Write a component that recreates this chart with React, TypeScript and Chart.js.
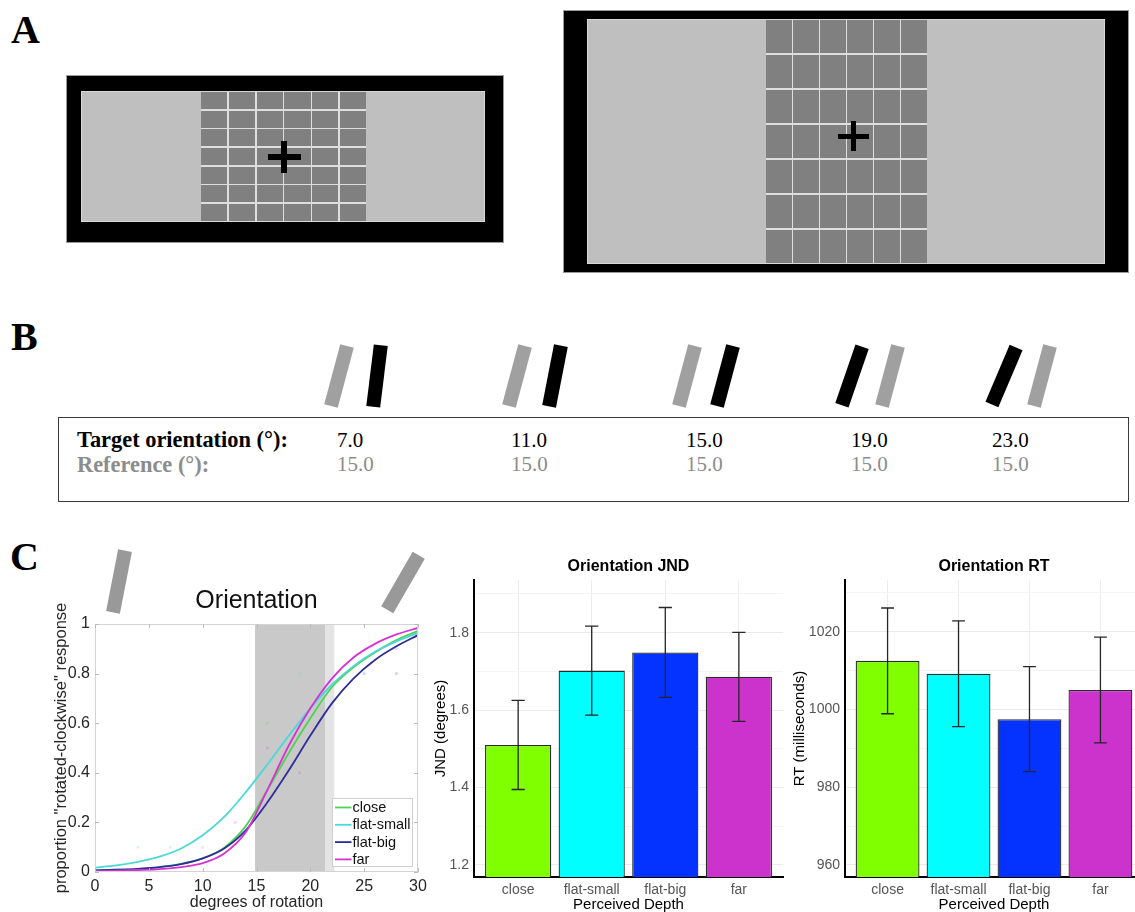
import React, { useEffect, useRef } from 'react';
import { Chart, registerables } from 'chart.js';

Chart.register(...registerables);

const SANS = "'Liberation Sans', Arial, Helvetica, sans-serif";
const SERIF = "'Liberation Serif', 'Times New Roman', Times, serif";

// ---------------- Panel B data ----------------
const targetOrientations = [7.0, 11.0, 15.0, 19.0, 23.0];
const referenceOrientations = [15.0, 15.0, 15.0, 15.0, 15.0];

// ---------------- Panel C: example bars above the psychometric plot (deg) ----------------
const exampleBarAngles = [11, 30];

// ---------------- Panel C: psychometric curves ----------------
const rotationDegrees = [0, 2, 4, 6, 8, 10, 12, 14, 16, 18, 20, 22, 24, 26, 28, 30];
const closeCurve = [0.006, 0.009, 0.013, 0.02, 0.033, 0.055, 0.098, 0.185, 0.33, 0.48, 0.62, 0.745, 0.825, 0.885, 0.935, 0.972];
const flatSmallCurve = [0.018, 0.027, 0.041, 0.062, 0.095, 0.148, 0.222, 0.322, 0.433, 0.55, 0.66, 0.755, 0.83, 0.888, 0.93, 0.964];
const flatBigCurve = [0.006, 0.009, 0.013, 0.02, 0.032, 0.055, 0.095, 0.168, 0.28, 0.41, 0.55, 0.68, 0.78, 0.855, 0.91, 0.955];
const farCurve = [0.003, 0.005, 0.008, 0.012, 0.02, 0.036, 0.075, 0.16, 0.33, 0.51, 0.66, 0.78, 0.865, 0.92, 0.958, 0.984];
const psychLabels = ['close', 'flat-small', 'flat-big', 'far'];
const psychColors = ['#4fd24f', '#4cd8d8', '#2d2d9b', '#d532d5'];
const psychXTicks = [0, 5, 10, 15, 20, 25, 30];
const psychYTicks = [0, 0.2, 0.4, 0.6, 0.8, 1];
const shadeOuter = [14.87, 22.23];
const shadeInner = [14.87, 21.36];

// raw proportions (faint dots)
const closeRawX = [10, 16];
const closeRawY = [0.1, 0.6];
const flatSmallRawX = [4, 7, 13, 19, 25];
const flatSmallRawY = [0.1, 0.1, 0, 0.8, 0.9];
const flatBigRawX = [25, 28];
const flatBigRawY = [0.8, 0.8];
const farRawX = [4, 7, 10, 13, 16, 19, 25, 28];
const farRawY = [0, 0, 0, 0.2, 0.5, 0.4, 1.0, 0.9];

// ---------------- Panel C: bar charts ----------------
const depthCategories = ['close', 'flat-small', 'flat-big', 'far'];
const depthColors = ['#80ff00', '#00ffff', '#0433ff', '#cc33cc'];
const jndMeans = [1.51, 1.702, 1.749, 1.686];
const jndSE = [0.115, 0.115, 0.116, 0.115];
const jndMajorTicks = [1.2, 1.4, 1.6, 1.8];
const jndMinorTicks = [1.3, 1.5, 1.7, 1.9];
const jndRange = [1.169, 1.936];
const rtMeans = [1012.5, 1009.2, 997.5, 1005.0];
const rtSE = [13.6, 13.6, 13.5, 13.6];
const rtMajorTicks = [960, 980, 1000, 1020];
const rtMinorTicks = [970, 990, 1010, 1030];
const rtRange = [956.9, 1033.3];

// ---------------------------------------------------------------
function ChartCanvas({ left, top, width, height, makeConfig }: any) {
  const ref = useRef<HTMLCanvasElement>(null);
  useEffect(() => {
    const chart = new Chart(ref.current as HTMLCanvasElement, makeConfig());
    return () => chart.destroy();
  }, []);
  return (
    <canvas
      ref={ref}
      width={width}
      height={height}
      style={{ position: 'absolute', left, top, width, height }}
    />
  );
}

const psychDecorPlugin = {
  id: 'psychDecor',
  beforeDatasetsDraw(chart: any) {
    const { ctx, chartArea: a, scales } = chart;
    const x = scales.x;
    ctx.save();
    const band = (range: number[], color: string) => {
      const x0 = x.getPixelForValue(range[0]);
      const x1 = x.getPixelForValue(range[1]);
      ctx.fillStyle = color;
      ctx.fillRect(x0, a.top, x1 - x0, a.bottom - a.top);
    };
    band(shadeOuter, '#e4e4e4');
    band(shadeInner, '#c9c9c9');
    ctx.restore();
  },
  afterDatasetsDraw(chart: any) {
    const { ctx, chartArea: a, scales } = chart;
    const x = scales.x;
    const y = scales.y;
    ctx.save();
    ctx.strokeStyle = '#d4d4d4';
    ctx.lineWidth = 1;
    ctx.strokeRect(a.left + 0.5, a.top + 0.5, a.right - a.left - 1, a.bottom - a.top - 1);
    ctx.strokeStyle = '#bcbcbc';
    ctx.beginPath();
    psychXTicks.forEach((v) => {
      const px = Math.round(x.getPixelForValue(v)) + 0.5;
      ctx.moveTo(px, a.bottom);
      ctx.lineTo(px, a.bottom - 4);
      ctx.moveTo(px, a.top);
      ctx.lineTo(px, a.top + 4);
    });
    psychYTicks.forEach((v) => {
      const py = Math.round(y.getPixelForValue(v)) + 0.5;
      ctx.moveTo(a.left, py);
      ctx.lineTo(a.left + 4, py);
      ctx.moveTo(a.right, py);
      ctx.lineTo(a.right - 4, py);
    });
    ctx.stroke();

    // legend (inside, bottom-right)
    const bw = 80;
    const bh = 68;
    const bx = a.right - 6 - bw;
    const by = a.bottom - 6 - bh;
    ctx.fillStyle = '#fff';
    ctx.fillRect(bx, by, bw, bh);
    ctx.strokeStyle = '#d0d0d0';
    ctx.lineWidth = 1;
    ctx.strokeRect(Math.round(bx) + 0.5, Math.round(by) + 0.5, bw, bh);
    ctx.font = `14.5px ${SANS}`;
    ctx.textBaseline = 'middle';
    ctx.textAlign = 'left';
    psychLabels.forEach((lab, i) => {
      const cy = by + 9.5 + i * 17.3;
      ctx.strokeStyle = psychColors[i];
      ctx.lineWidth = 1.8;
      ctx.beginPath();
      ctx.moveTo(bx + 3, cy);
      ctx.lineTo(bx + 19.5, cy);
      ctx.stroke();
      ctx.fillStyle = '#111';
      ctx.fillText(lab, bx + 20.5, cy + 0.5);
    });
    ctx.restore();
  },
};

function makePsychConfig() {
  const curves = [closeCurve, flatSmallCurve, flatBigCurve, farCurve];
  const rawX = [closeRawX, flatSmallRawX, flatBigRawX, farRawX];
  const rawY = [closeRawY, flatSmallRawY, flatBigRawY, farRawY];
  const fade = (hex: string) => {
    const n = parseInt(hex.slice(1), 16);
    return `rgba(${(n >> 16) & 255},${(n >> 8) & 255},${n & 255},0.2)`;
  };
  const curveSets = curves.map((c, i) => ({
    label: psychLabels[i],
    data: rotationDegrees.map((d, j) => ({ x: d, y: c[j] })),
    borderColor: psychColors[i],
    borderWidth: 1.8,
    pointRadius: 0,
    cubicInterpolationMode: 'monotone',
    fill: false,
  }));
  const rawSets = rawX.map((xs, i) => ({
    label: psychLabels[i] + ' data',
    data: xs.map((d, j) => ({ x: d, y: rawY[i][j] })),
    showLine: false,
    pointRadius: 1.6,
    pointBorderWidth: 0,
    pointBackgroundColor: fade(psychColors[i]),
    borderColor: 'transparent',
  }));
  return {
    type: 'line',
    data: { datasets: [...curveSets.slice().reverse(), ...rawSets] },
    options: {
      responsive: false,
      animation: false,
      devicePixelRatio: 1,
      events: [],
      layout: { padding: { left: 0, right: 22, top: 0, bottom: 0 } },
      plugins: {
        legend: { display: false },
        tooltip: { enabled: false },
        title: {
          display: true,
          text: 'Orientation',
          fullSize: false,
          color: '#111',
          font: { family: SANS, size: 25, weight: 'normal' },
          padding: { top: 6, bottom: 8 },
        },
      },
      scales: {
        x: {
          type: 'linear',
          min: 0,
          max: 30,
          afterBuildTicks: (axis: any) => {
            axis.ticks = psychXTicks.map((v) => ({ value: v }));
          },
          afterFit: (axis: any) => {
            axis.height = 40;
          },
          ticks: {
            color: '#262626',
            font: { family: SANS, size: 16 },
            padding: 5,
            maxRotation: 0,
            autoSkip: false,
            callback: (v: any) => String(v),
          },
          grid: { display: false, drawTicks: false },
          border: { display: false },
          title: {
            display: true,
            text: 'degrees of rotation',
            color: '#262626',
            font: { family: SANS, size: 16 },
            padding: 0,
          },
        },
        y: {
          type: 'linear',
          min: 0,
          max: 1,
          afterBuildTicks: (axis: any) => {
            axis.ticks = psychYTicks.map((v) => ({ value: v }));
          },
          afterFit: (axis: any) => {
            axis.width = 45;
          },
          ticks: {
            color: '#262626',
            font: { family: SANS, size: 16 },
            padding: 5,
            autoSkip: false,
            callback: (v: any) => String(v),
          },
          grid: { display: false, drawTicks: false },
          border: { display: false },
          title: {
            display: true,
            text: 'proportion "rotated-clockwise" response',
            color: '#262626',
            font: { family: SANS, size: 16.5 },
            padding: { top: 2, bottom: 0 },
          },
        },
      },
    },
    plugins: [psychDecorPlugin],
  };
}

function makeErrorBarPlugin(means: number[], se: number[]) {
  return {
    id: 'errorBars',
    afterDatasetsDraw(chart: any) {
      const { ctx, scales } = chart;
      const x = scales.x;
      const y = scales.y;
      ctx.save();
      ctx.strokeStyle = '#262626';
      ctx.lineWidth = 1.3;
      means.forEach((m, i) => {
        const px = x.getPixelForValue(i);
        const hw = x.getPixelForValue(i + 0.09) - px;
        const yt = y.getPixelForValue(m + se[i]);
        const yb = y.getPixelForValue(m - se[i]);
        ctx.beginPath();
        ctx.moveTo(px, yt);
        ctx.lineTo(px, yb);
        ctx.moveTo(px - hw, yt);
        ctx.lineTo(px + hw, yt);
        ctx.moveTo(px - hw, yb);
        ctx.lineTo(px + hw, yb);
        ctx.stroke();
      });
      ctx.restore();
    },
  };
}

function makeBarConfig(
  title: string,
  yTitle: string,
  means: number[],
  se: number[],
  major: number[],
  minor: number[],
  range: number[],
  yAxisWidth: number,
  rightPad: number
) {
  const allTicks = [...major, ...minor].sort((a, b) => a - b);
  return {
    type: 'bar',
    data: {
      datasets: [
        {
          data: means.map((m, i) => ({ x: i, y: m })),
          backgroundColor: depthColors,
          borderColor: '#2b2b2b',
          borderWidth: 1.3,
          barPercentage: 0.9,
          categoryPercentage: 1,
          borderSkipped: 'start',
        },
      ],
    },
    options: {
      responsive: false,
      animation: false,
      devicePixelRatio: 1,
      events: [],
      layout: { padding: { left: 0, right: rightPad, top: 0, bottom: 0 } },
      plugins: {
        legend: { display: false },
        tooltip: { enabled: false },
        title: {
          display: true,
          text: title,
          fullSize: false,
          color: '#000',
          font: { family: SANS, size: 16, weight: 'bold' },
          padding: { top: 17, bottom: 3.8 },
        },
      },
      scales: {
        x: {
          type: 'linear',
          offset: false,
          min: -0.6,
          max: depthCategories.length - 0.4,
          afterBuildTicks: (axis: any) => {
            axis.ticks = depthCategories.map((_, i) => ({ value: i }));
          },
          afterFit: (axis: any) => {
            axis.height = 37;
          },
          ticks: {
            color: '#555',
            font: { family: SANS, size: 14 },
            padding: 5,
            autoSkip: false,
            maxRotation: 0,
            callback: (v: any) => depthCategories[v],
          },
          grid: { color: '#ececec', drawTicks: false, lineWidth: 1, offset: false },
          border: { display: true, color: '#000', width: 2 },
          title: {
            display: true,
            text: 'Perceived Depth',
            color: '#000',
            font: { family: SANS, size: 15 },
            padding: 0,
          },
        },
        y: {
          type: 'linear',
          min: range[0],
          max: range[1],
          afterBuildTicks: (axis: any) => {
            axis.ticks = allTicks.map((v) => ({ value: v }));
          },
          afterFit: (axis: any) => {
            axis.width = yAxisWidth;
          },
          ticks: {
            color: '#555',
            font: { family: SANS, size: 14 },
            padding: 5,
            autoSkip: false,
            callback: (v: any) => (major.includes(v) ? String(v) : ''),
          },
          grid: {
            drawTicks: false,
            lineWidth: 1,
            color: (c: any) => (c.tick && major.includes(c.tick.value) ? '#ebebeb' : '#f4f4f4'),
          },
          border: { display: true, color: '#000', width: 2 },
          title: {
            display: true,
            text: yTitle,
            color: '#000',
            font: { family: SANS, size: 15 },
            padding: 0,
          },
        },
      },
    },
    plugins: [makeErrorBarPlugin(means, se)],
  };
}

// ---------------- illustrations ----------------
function Stimulus({ x, y, w, h, padL, padT, padR, padB, gridL, gridR, crossX, crossY, armH, armV, thick }: any) {
  const innerL = x + padL;
  const innerT = y + padT;
  const innerW = w - padL - padR;
  const innerH = h - padT - padB;
  const cells = Array.from({ length: 42 }, (_, i) => <div key={i} style={{ background: '#808080' }} />);
  return (
    <>
      <div style={{ position: 'absolute', left: x, top: y, width: w, height: h, background: '#000', boxShadow: '0 0 0 1px #9a9a9a' }} />
      <div
        style={{
          position: 'absolute',
          left: innerL,
          top: innerT,
          width: innerW,
          height: innerH,
          background: '#bfbfbf',
          boxShadow: '0 0 0 1px #d8d8d8',
        }}
      />
      <div
        style={{
          position: 'absolute',
          left: gridL,
          top: innerT,
          width: gridR - gridL,
          height: innerH,
          display: 'grid',
          gridTemplateColumns: 'repeat(6, 1fr)',
          gridTemplateRows: 'repeat(7, 1fr)',
          gap: '1.5px',
          background: '#dedede',
        }}
      >
        {cells}
      </div>
      <div style={{ position: 'absolute', left: crossX - armH / 2, top: crossY - thick / 2, width: armH, height: thick, background: '#000' }} />
      <div style={{ position: 'absolute', left: crossX - thick / 2, top: crossY - armV / 2, width: thick, height: armV, background: '#000' }} />
    </>
  );
}

function Bar({ cx, cy, angle, color, w = 14, h = 62 }: any) {
  return (
    <div
      style={{
        position: 'absolute',
        left: cx - w / 2,
        top: cy - h / 2,
        width: w,
        height: h,
        background: color,
        transform: `rotate(${angle}deg)`,
      }}
    />
  );
}

function Letter({ ch, left, top }: any) {
  return (
    <div
      style={{
        position: 'absolute',
        left,
        top,
        font: `bold 40px ${SERIF}`,
        lineHeight: '40px',
        color: '#000',
      }}
    >
      {ch}
    </div>
  );
}

const pairCentersX = [358, 536, 706, 871, 1023];
const tableColX = [337, 511, 686, 851, 992];

export default function App() {
  const textStyle = (color: string, bold: boolean, left: number, top: number, size: number): any => ({
    position: 'absolute',
    left,
    top,
    font: `${bold ? 'bold ' : ''}${size}px ${SERIF}`,
    lineHeight: `${size}px`,
    color,
    whiteSpace: 'nowrap',
  });
  return (
    <div
      style={{
        position: 'absolute',
        left: 0,
        top: 0,
        width: 1135,
        height: 912,
        overflow: 'hidden',
        background: '#fff',
      }}
    >
      {/* Panel A */}
      <Letter ch="A" left={11} top={9.5} />
      <Stimulus x={67} y={76} w={436} h={166} padL={15} padT={16} padR={19} padB={21} gridL={201} gridR={366} crossX={284} crossY={157} armH={33} armV={32} thick={5.5} />
      <Stimulus x={564} y={11} w={564} h={261} padL={24} padT={9} padR={24} padB={9} gridL={766} gridR={927} crossX={853.5} crossY={136} armH={31} armV={30} thick={5} />

      {/* Panel B */}
      <Letter ch="B" left={11} top={316.5} />
      {targetOrientations.map((t, i) => {
        const ref = referenceOrientations[i];
        const targetLeft = t > ref;
        const c = pairCentersX[i];
        return (
          <React.Fragment key={i}>
            <Bar cx={targetLeft ? c + 19 : c - 19} cy={376} angle={ref} color="#a0a0a0" />
            <Bar cx={targetLeft ? c - 19 : c + 19} cy={376} angle={t} color="#000" />
          </React.Fragment>
        );
      })}
      <div
        style={{
          position: 'absolute',
          left: 58,
          top: 417,
          width: 1071,
          height: 85,
          border: '1.5px solid #3a3a3a',
          boxSizing: 'border-box',
        }}
      />
      <div style={textStyle('#000', true, 77, 429, 22.4)}>Target orientation (°):</div>
      <div style={textStyle('#8c8c8c', true, 77, 453.5, 22.4)}>Reference (°):</div>
      {targetOrientations.map((t, i) => (
        <div key={'t' + i} style={textStyle('#000', false, tableColX[i], 430, 21)}>
          {t.toFixed(1)}
        </div>
      ))}
      {referenceOrientations.map((r, i) => (
        <div key={'r' + i} style={textStyle('#8c8c8c', false, tableColX[i], 454, 21)}>
          {r.toFixed(1)}
        </div>
      ))}

      {/* Panel C */}
      <Letter ch="C" left={10} top={536.5} />
      <Bar cx={119} cy={581} angle={exampleBarAngles[0]} color="#999" w={14} h={63} />
      <Bar cx={403} cy={582.5} angle={exampleBarAngles[1]} color="#999" w={14} h={63} />
      <ChartCanvas left={50} top={580} width={390} height={332} makeConfig={makePsychConfig} />
      <ChartCanvas
        left={432}
        top={540}
        width={358}
        height={374}
        makeConfig={() =>
          makeBarConfig('Orientation JND', 'JND (degrees)', jndMeans, jndSE, jndMajorTicks, jndMinorTicks, jndRange, 42, 7)
        }
      />
      <ChartCanvas
        left={791}
        top={540}
        width={360}
        height={374}
        makeConfig={() =>
          makeBarConfig('Orientation RT', 'RT (milliseconds)', rtMeans, rtSE, rtMajorTicks, rtMinorTicks, rtRange, 54, 8)
        }
      />
    </div>
  );
}
